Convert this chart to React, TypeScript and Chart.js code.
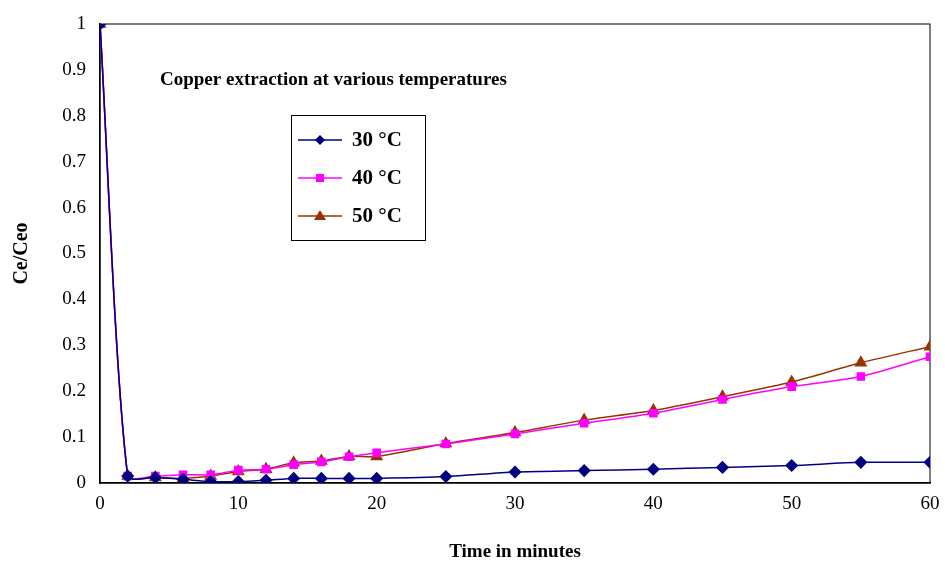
import React, { useEffect, useRef } from 'react';
import Chart from 'chart.js/auto';

const times = [0, 2, 4, 6, 8, 10, 12, 14, 16, 18, 20, 25, 30, 35, 40, 45, 50, 55, 60];
const t30 = [1, 0.015, 0.012, 0.008, 0.003, 0.003, 0.006, 0.01, 0.01, 0.01, 0.01, 0.014, 0.024, 0.027, 0.03, 0.034, 0.038, 0.045, 0.045];
const t40 = [1, 0.015, 0.015, 0.018, 0.018, 0.028, 0.03, 0.04, 0.046, 0.057, 0.066, 0.085, 0.107, 0.13, 0.152, 0.182, 0.21, 0.232, 0.275];
const t50 = [1, 0.015, 0.012, 0.01, 0.015, 0.025, 0.03, 0.044, 0.048, 0.058, 0.058, 0.086, 0.11, 0.137, 0.158, 0.188, 0.22, 0.262, 0.297];
const seriesLabels = ['30 °C', '40 °C', '50 °C'];

const FONT = '"Liberation Serif", "Times New Roman", serif';

const App: React.FC = () => {
  const chartRef = useRef<HTMLCanvasElement>(null);
  const chartInstance = useRef<Chart | null>(null);

  useEffect(() => {
    if (!chartRef.current) return;
    if (chartInstance.current) chartInstance.current.destroy();

    const toPts = (vals: number[]) => vals.map((v, i) => ({ x: times[i], y: v }));
    const colors = ['#000080', '#ff00ff', '#993300'];
    const styles = ['rectRot', 'rect', 'triangle'];
    const radii = [5.5, 5, 6];

    // title and boxed legend drawn inside the plot area
    const overlay = {
      id: 'overlay',
      afterDraw(chart: Chart) {
        const ctx = chart.ctx;
        ctx.save();
        ctx.fillStyle = '#000';
        ctx.font = `bold 19px ${FONT}`;
        ctx.textBaseline = 'middle';
        ctx.fillText('Copper extraction at various temperatures', 160, 80);
        ctx.strokeStyle = '#000';
        ctx.lineWidth = 1;
        ctx.fillStyle = '#fff';
        ctx.fillRect(291.5, 115.5, 134, 125);
        ctx.strokeRect(291.5, 115.5, 134, 125);
        seriesLabels.forEach((lab, i) => {
          const y = 140 + i * 38;
          ctx.strokeStyle = colors[i];
          ctx.lineWidth = 1.5;
          ctx.beginPath();
          ctx.moveTo(298, y);
          ctx.lineTo(342, y);
          ctx.stroke();
          ctx.fillStyle = colors[i];
          ctx.beginPath();
          if (i === 0) {
            ctx.moveTo(320, y - 5); ctx.lineTo(325, y); ctx.lineTo(320, y + 5); ctx.lineTo(315, y);
          } else if (i === 1) {
            ctx.rect(316, y - 4, 8, 8);
          } else {
            ctx.moveTo(320, y - 6); ctx.lineTo(326, y + 4); ctx.lineTo(314, y + 4);
          }
          ctx.closePath();
          ctx.fill();
          ctx.fillStyle = '#000';
          ctx.font = `bold 21px ${FONT}`;
          ctx.fillText(lab, 352, y + 1);
        });
        ctx.restore();
      },
    };

    chartInstance.current = new Chart(chartRef.current, {
      type: 'line',
      data: {
        datasets: [t30, t40, t50].map((vals, i) => ({
          label: seriesLabels[i],
          data: toPts(vals),
          borderColor: colors[i],
          backgroundColor: colors[i],
          borderWidth: 1.5,
          pointStyle: styles[i] as any,
          pointRadius: radii[i],
          tension: 0.25,
        })),
      },
      options: {
        animation: false,
        responsive: false,
        layout: { padding: { top: 24, right: 15 } },
        plugins: { legend: { display: false }, tooltip: { enabled: false } },
        scales: {
          x: {
            type: 'linear',
            min: 0,
            max: 60,
            ticks: { stepSize: 10, color: '#000', font: { family: FONT, size: 19 }, padding: 4 },
            grid: { display: false, drawTicks: true, tickLength: 6, tickColor: '#000' } as any,
            border: { color: '#000', width: 1.5 },
            title: { display: true, text: 'Time in minutes', color: '#000', font: { family: FONT, size: 19, weight: 'bold' }, padding: 0 },
            afterFit: (s: any) => { s.height = 80; },
          },
          y: {
            min: 0,
            max: 1,
            ticks: {
              stepSize: 0.1,
              color: '#000',
              font: { family: FONT, size: 19 },
              padding: 8,
              callback: (v: any) => String(Math.round(Number(v) * 10) / 10),
            },
            grid: { display: false, tickLength: 6, tickColor: '#000' } as any,
            border: { color: '#000', width: 1.5 },
            title: { display: true, text: 'Ce/Ceo', color: '#000', font: { family: FONT, size: 20, weight: 'bold' }, padding: 10 },
            afterFit: (s: any) => { s.width = 100; },
          },
        },
      },
      plugins: [
        overlay,
        {
          id: 'frame',
          beforeDraw(chart: Chart) {
            const { ctx, chartArea: a } = chart;
            ctx.save();
            ctx.strokeStyle = '#000';
            ctx.lineWidth = 1;
            ctx.strokeRect(a.left, a.top, a.right - a.left, a.bottom - a.top);
            ctx.restore();
          },
        },
      ],
    });

    return () => {
      if (chartInstance.current) chartInstance.current.destroy();
    };
  }, []);

  return (
    <div style={{ position: 'fixed', left: 0, top: 0, width: 945, height: 563, background: '#fff' }}>
      <canvas ref={chartRef} width={945} height={563}></canvas>
    </div>
  );
};

export default App;
